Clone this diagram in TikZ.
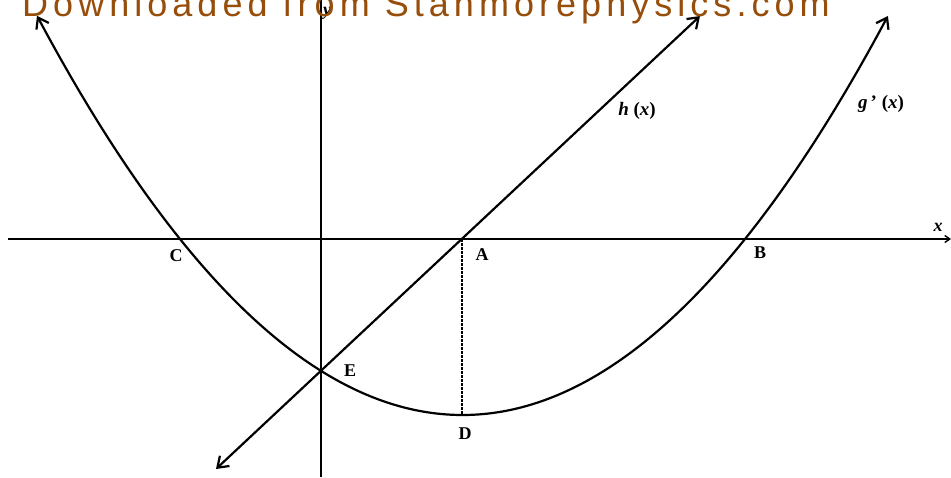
\documentclass[tikz,border=0pt]{standalone}
\usepackage{fontspec}
\setmainfont{Liberation Serif}
\newfontfamily\wmfont{Liberation Sans}[LetterSpace=14]
\usetikzlibrary{arrows.meta}
\definecolor{wmbrown}{RGB}{150,78,10}
\tikzset{
  curve/.style={line width=2.2pt, black},
  axis/.style={line width=1.4pt, black},
  lbl/.style={font=\fontsize{18}{18}\selectfont\bfseries, inner sep=0pt},
  flbl/.style={font=\fontsize{19}{19}\selectfont\bfseries, inner sep=0pt},
  barbs/.style={{Straight Barb[length=10pt,width=14pt]}-{Straight Barb[length=10pt,width=14pt]}},
}
\begin{document}
\begin{tikzpicture}[x=1pt,y=-1pt]
\useasboundingbox (0,0) rectangle (951,477);
% points
\coordinate (O) at (321,239);
\coordinate (Cp) at (180,239);
\coordinate (Bp) at (745,239);
\coordinate (Ap) at (462,239);
\coordinate (Dp) at (462,415);
\coordinate (Ep) at (321,371);
\coordinate (xl) at (8,239);
\coordinate (xr) at (951,239);
\coordinate (yt) at (321,0);
\coordinate (yb) at (321,477);
\coordinate (hb) at (216,469);
\coordinate (ht) at (700,16);
% axes
\draw[axis] (yb) -- (yt);
\draw[axis,-{Straight Barb[length=5pt,width=7pt]}] (xl) -- (xr);
% h(x)
\draw[curve,barbs] (hb) -- (ht);
% g'(x)
\draw[curve,barbs]
  plot[smooth,samples=80,domain=-4.255:4.255] ({462.5+100*\x},{415-22.05*\x*\x});
% dashed
\draw[line width=1.4pt,dash pattern=on 2.5pt off 1.5pt] (Ap) -- (Dp);
% labels
\node[lbl] (C) at (176,256) {C};
\node[lbl] (A) at (482,255) {A};
\node[lbl] (B) at (760,253) {B};
\node[lbl] (D) at (465,434) {D};
\node[lbl] (E) at (350,371) {E};
\node[flbl] (hx) at (637,111) {\itshape h \upshape(\itshape x\upshape)};
\node[flbl] (gx) at (881,104) {\itshape g\upshape\,' (\itshape x\upshape)};
\node[lbl] (xlab) at (938,227) {\itshape x};
\node[lbl] (ylab) at (327,13) {\itshape y};
% watermark
\node[anchor=base west, inner sep=0pt, text=wmbrown, font=\wmfont\fontsize{36}{36}\selectfont] (wm) at (22,16) {Downloaded from Stanmorephysics.com};
\end{tikzpicture}
\end{document}
